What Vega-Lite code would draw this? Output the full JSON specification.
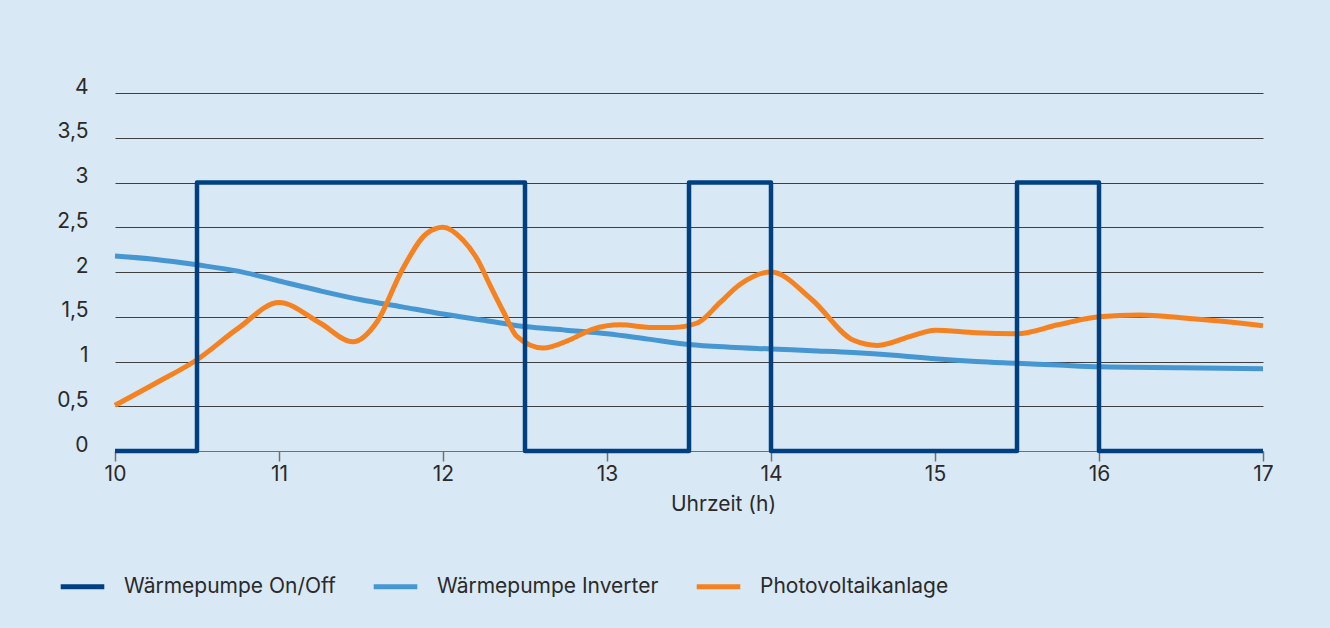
{
  "$schema": "https://vega.github.io/schema/vega-lite/v6.json",
  "width": 1148,
  "height": 358,
  "autosize": {"type": "none"},
  "padding": {"left": 115, "top": 93, "right": 67, "bottom": 177},
  "background": "#d9e8f5",
  "config": {
    "view": {"stroke": null},
    "font": "Inter",
    "axis": {"labelFont": "Inter", "titleFont": "Inter", "labelColor": "#2a2a2a", "titleColor": "#2a2a2a"},
    "legend": {"labelFont": "Inter"}
  },
  "datasets": {
    "onoff": [
      {"series": "Wärmepumpe On/Off", "t": 10, "v": 0},
      {"series": "Wärmepumpe On/Off", "t": 10.5, "v": 3},
      {"series": "Wärmepumpe On/Off", "t": 12.5, "v": 0},
      {"series": "Wärmepumpe On/Off", "t": 13.5, "v": 3},
      {"series": "Wärmepumpe On/Off", "t": 14, "v": 0},
      {"series": "Wärmepumpe On/Off", "t": 15.5, "v": 3},
      {"series": "Wärmepumpe On/Off", "t": 16, "v": 0},
      {"series": "Wärmepumpe On/Off", "t": 17, "v": 0}
    ],
    "curves": [
      {"series": "Wärmepumpe Inverter", "t": 10, "v": 2.18},
      {"series": "Wärmepumpe Inverter", "t": 10.25, "v": 2.14},
      {"series": "Wärmepumpe Inverter", "t": 10.5, "v": 2.08},
      {"series": "Wärmepumpe Inverter", "t": 10.75, "v": 2.01},
      {"series": "Wärmepumpe Inverter", "t": 11, "v": 1.9},
      {"series": "Wärmepumpe Inverter", "t": 11.25, "v": 1.79},
      {"series": "Wärmepumpe Inverter", "t": 11.5, "v": 1.69},
      {"series": "Wärmepumpe Inverter", "t": 11.75, "v": 1.61},
      {"series": "Wärmepumpe Inverter", "t": 12, "v": 1.53},
      {"series": "Wärmepumpe Inverter", "t": 12.25, "v": 1.46},
      {"series": "Wärmepumpe Inverter", "t": 12.5, "v": 1.39},
      {"series": "Wärmepumpe Inverter", "t": 12.75, "v": 1.35},
      {"series": "Wärmepumpe Inverter", "t": 13, "v": 1.31},
      {"series": "Wärmepumpe Inverter", "t": 13.25, "v": 1.25},
      {"series": "Wärmepumpe Inverter", "t": 13.5, "v": 1.19},
      {"series": "Wärmepumpe Inverter", "t": 13.75, "v": 1.16},
      {"series": "Wärmepumpe Inverter", "t": 14, "v": 1.14},
      {"series": "Wärmepumpe Inverter", "t": 14.25, "v": 1.12},
      {"series": "Wärmepumpe Inverter", "t": 14.5, "v": 1.1},
      {"series": "Wärmepumpe Inverter", "t": 14.75, "v": 1.07},
      {"series": "Wärmepumpe Inverter", "t": 15, "v": 1.03},
      {"series": "Wärmepumpe Inverter", "t": 15.25, "v": 1.0},
      {"series": "Wärmepumpe Inverter", "t": 15.5, "v": 0.98},
      {"series": "Wärmepumpe Inverter", "t": 15.75, "v": 0.96},
      {"series": "Wärmepumpe Inverter", "t": 16, "v": 0.94},
      {"series": "Wärmepumpe Inverter", "t": 16.5, "v": 0.93},
      {"series": "Wärmepumpe Inverter", "t": 17, "v": 0.92},
      {"series": "Photovoltaikanlage", "t": 10, "v": 0.51},
      {"series": "Photovoltaikanlage", "t": 10.25, "v": 0.76},
      {"series": "Photovoltaikanlage", "t": 10.5, "v": 1.02},
      {"series": "Photovoltaikanlage", "t": 10.75, "v": 1.37},
      {"series": "Photovoltaikanlage", "t": 11, "v": 1.66},
      {"series": "Photovoltaikanlage", "t": 11.25, "v": 1.43},
      {"series": "Photovoltaikanlage", "t": 11.45, "v": 1.22},
      {"series": "Photovoltaikanlage", "t": 11.6, "v": 1.45},
      {"series": "Photovoltaikanlage", "t": 11.75, "v": 2.02},
      {"series": "Photovoltaikanlage", "t": 11.9, "v": 2.43},
      {"series": "Photovoltaikanlage", "t": 12, "v": 2.5},
      {"series": "Photovoltaikanlage", "t": 12.12, "v": 2.36},
      {"series": "Photovoltaikanlage", "t": 12.21, "v": 2.14},
      {"series": "Photovoltaikanlage", "t": 12.29, "v": 1.84},
      {"series": "Photovoltaikanlage", "t": 12.37, "v": 1.55},
      {"series": "Photovoltaikanlage", "t": 12.45, "v": 1.28},
      {"series": "Photovoltaikanlage", "t": 12.61, "v": 1.15},
      {"series": "Photovoltaikanlage", "t": 12.77, "v": 1.24},
      {"series": "Photovoltaikanlage", "t": 12.91, "v": 1.36},
      {"series": "Photovoltaikanlage", "t": 13.08, "v": 1.41},
      {"series": "Photovoltaikanlage", "t": 13.28, "v": 1.38},
      {"series": "Photovoltaikanlage", "t": 13.4, "v": 1.38},
      {"series": "Photovoltaikanlage", "t": 13.55, "v": 1.43},
      {"series": "Photovoltaikanlage", "t": 13.69, "v": 1.66},
      {"series": "Photovoltaikanlage", "t": 13.81, "v": 1.86},
      {"series": "Photovoltaikanlage", "t": 14, "v": 2.0},
      {"series": "Photovoltaikanlage", "t": 14.25, "v": 1.69},
      {"series": "Photovoltaikanlage", "t": 14.5, "v": 1.24},
      {"series": "Photovoltaikanlage", "t": 14.65, "v": 1.18},
      {"series": "Photovoltaikanlage", "t": 14.85, "v": 1.28},
      {"series": "Photovoltaikanlage", "t": 15, "v": 1.35},
      {"series": "Photovoltaikanlage", "t": 15.25, "v": 1.32},
      {"series": "Photovoltaikanlage", "t": 15.5, "v": 1.31},
      {"series": "Photovoltaikanlage", "t": 15.75, "v": 1.41},
      {"series": "Photovoltaikanlage", "t": 16, "v": 1.5},
      {"series": "Photovoltaikanlage", "t": 16.25, "v": 1.52},
      {"series": "Photovoltaikanlage", "t": 16.5, "v": 1.49},
      {"series": "Photovoltaikanlage", "t": 16.75, "v": 1.45},
      {"series": "Photovoltaikanlage", "t": 17, "v": 1.4}
    ]
  },
  "encoding": {
    "x": {
      "field": "t", "type": "quantitative",
      "scale": {"domain": [10, 17], "nice": false, "zero": false},
      "axis": {
        "title": "Uhrzeit (h)", "titleFontSize": 21, "titleFontWeight": "normal",
        "titleX": 608, "titleY": 42, "titleAlign": "center",
        "values": [10, 11, 12, 13, 14, 15, 16, 17],
        "labelFontSize": 21, "labelPadding": 2, "labelFlush": false,
        "grid": false, "domainColor": "#707070", "domainWidth": 1,
        "tickColor": "#707070", "tickSize": 10, "tickWidth": 1.5
      }
    },
    "y": {
      "field": "v", "type": "quantitative",
      "scale": {"domain": [0, 4], "nice": false},
      "axis": {
        "title": null, "values": [0, 0.5, 1, 1.5, 2, 2.5, 3, 3.5, 4],
        "labelExpr": "replace(toString(datum.value), '.', ',')",
        "labelFontSize": 21, "labelPadding": 27, "labelBaseline": "alphabetic",
        "domain": false, "ticks": false,
        "grid": true, "gridColor": "#3f3f3f", "gridWidth": 1
      }
    },
    "color": {
      "field": "series", "type": "nominal",
      "scale": {
        "domain": ["Wärmepumpe On/Off", "Wärmepumpe Inverter", "Photovoltaikanlage"],
        "range": ["#003f80", "#4696d2", "#f58220"]
      },
      "legend": {
        "title": null, "orient": "none", "direction": "horizontal",
        "legendX": -57, "legendY": 469,
        "symbolType": "stroke", "symbolSize": 1900, "symbolStrokeWidth": 5,
        "labelFontSize": 21, "labelColor": "#2a2a2a", "labelOffset": 17,
        "columnPadding": 27, "labelLimit": 400
      }
    }
  },
  "layer": [
    {
      "data": {"name": "curves"},
      "mark": {"type": "line", "interpolate": "monotone", "strokeWidth": 5, "strokeCap": "butt"}
    },
    {
      "data": {"name": "onoff"},
      "mark": {"type": "line", "interpolate": "step-after", "strokeWidth": 4.5, "strokeJoin": "round", "strokeCap": "butt"}
    }
  ]
}
